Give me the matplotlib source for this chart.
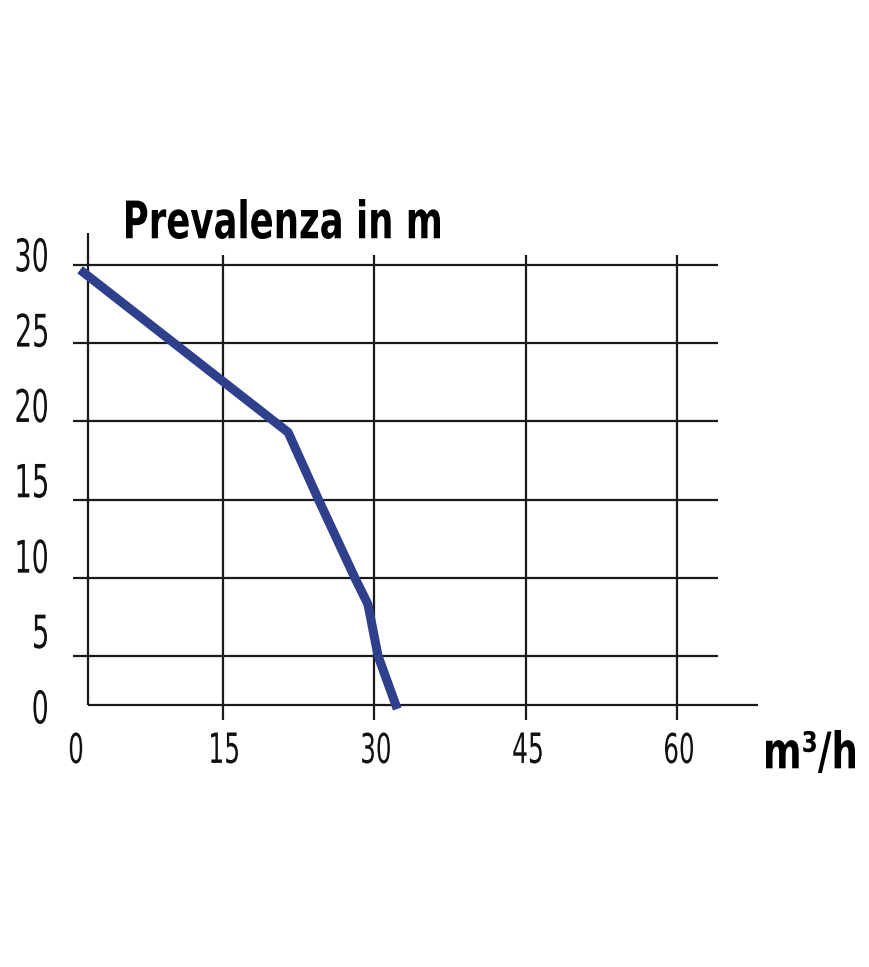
import matplotlib
matplotlib.use("Agg")
import matplotlib.pyplot as plt
from matplotlib.textpath import TextPath
from matplotlib.patches import PathPatch
from matplotlib.font_manager import FontProperties
from matplotlib.transforms import Affine2D

# data
x_ticks = [0, 15, 30, 45, 60]
y_ticks = [0, 5, 10, 15, 20, 25, 30]
flow = [0.9, 21.5, 24.5, 28.1, 29.4, 30.4, 32.3]
head = [29.7, 19.3, 15.0, 10.0, 8.3, 5.0, 1.6]

W, H = 870, 967
fig = plt.figure(figsize=(W / 100, H / 100), dpi=100)
ax = fig.add_axes([0, 0, 1, 1])

# pixel layout of the source: x=0 at px 71, 10.1 px per unit; y=0 at px 734, 15.63 px per unit
x0, sx = 71, 10.1
y0, sy = 734, 15.63
def dx(px):
    return (px - x0) / sx
def dy(py):
    return (y0 - py) / sy

ax.set_xlim(dx(0), dx(W))
ax.set_ylim(dy(H), dy(0))
ax.axis("off")

lc = "#1a1a1a"
txt_c = "#111111"


def squeezed(s, x, y, height, squeeze, ha="center", weight="normal"):
    """condensed text as a path; x, y in image pixels (y = vertical centre)"""
    tp = TextPath((0, 0), s, size=100, prop=FontProperties(family="DejaVu Sans", weight=weight))
    e = tp.get_extents()
    k = height / e.height
    w = e.width * k * squeeze
    left = {"left": x, "center": x - w / 2, "right": x - w}[ha]
    tr = (Affine2D().translate(-e.x0, -e.y0).scale(k * squeeze, k)
          .translate(left, H - y - height / 2))
    fig.add_artist(PathPatch(tp, transform=tr, facecolor=txt_c, edgecolor="none"))


def boxed(s, left, top, right, bottom, weight="bold"):
    tp = TextPath((0, 0), s, size=100, prop=FontProperties(family="DejaVu Sans", weight=weight))
    e = tp.get_extents()
    tr = (Affine2D().translate(-e.x0, -e.y0)
          .scale((right - left) / e.width, (bottom - top) / e.height)
          .translate(left, H - bottom))
    fig.add_artist(PathPatch(tp, transform=tr, facecolor="black", edgecolor="none"))


# horizontal grid lines
for v in y_ticks[1:]:
    ax.plot([dx(73), dx(718)], [v, v], color=lc, lw=1.6, solid_capstyle="butt")
# vertical grid lines
for v in x_ticks[1:]:
    ax.plot([v, v], [dy(255), dy(720)], color=lc, lw=1.6, solid_capstyle="butt")
# axes
ax.plot([dx(88), dx(88)], [dy(233), dy(705)], color=lc, lw=1.6, solid_capstyle="butt")
ax.plot([dx(88), dx(758)], [dy(705), dy(705)], color=lc, lw=1.6, solid_capstyle="butt")

# curve
ax.plot(flow, head, color="#2E3F8C", lw=6.5, solid_joinstyle="round", solid_capstyle="butt")

# y tick labels (the source spaces them a bit tighter than the grid)
for v in y_ticks:
    squeezed(str(v), 47, 707 - v * 15.07, 34, 0.6, ha="right")
# x tick labels
for v in x_ticks:
    cx = x0 + v * sx + 2 if v else 76
    squeezed(str(v), cx, 748, 31, 0.6)

boxed("Prevalenza in m", 126, 199, 440, 239)
boxed("m³/h", 766, 730, 855, 773)

fig.savefig("out.png", dpi=100, facecolor="white")
